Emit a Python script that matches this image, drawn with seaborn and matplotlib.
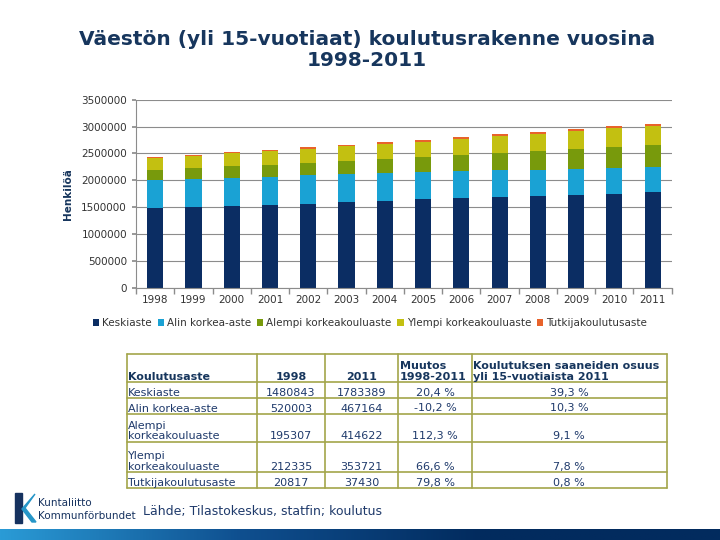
import numpy as np
import pandas as pd
import matplotlib
matplotlib.use("Agg")
import matplotlib.pyplot as plt
from matplotlib.patches import Patch, Polygon
import seaborn as sns

# Data (1998 and 2011 from the table)
years = [1998, 1999, 2000, 2001, 2002, 2003, 2004, 2005, 2006, 2007, 2008, 2009, 2010, 2011]
levels = ["Keskiaste", "Alin korkea-aste", "Alempi korkeakouluaste",
          "Ylempi korkeakouluaste", "Tutkijakoulutusaste"]
keskiaste = [1480843, 1500000, 1527000, 1548000, 1570000, 1594000, 1622000, 1645000,
             1668000, 1692000, 1705000, 1730000, 1755000, 1783389]
alin = [520003, 520000, 522000, 515000, 522000, 520000, 516000, 512000,
        508000, 502000, 492000, 484000, 477000, 467164]
alempi = [195307, 205000, 215000, 228000, 237000, 252000, 266000, 285000,
          303000, 322000, 350000, 370000, 395000, 414622]
ylempi = [212335, 225000, 238000, 250000, 260000, 270000, 280000, 280000,
          290000, 312000, 320000, 340000, 343000, 353721]
tutkija = [20817, 22000, 23000, 24500, 25500, 27000, 28000, 29500,
           31000, 32500, 34000, 35000, 36000, 37430]
colors = ["#0B2D63", "#1AA2D4", "#789A0C", "#C3C011", "#E8632B"]

# table below the chart
tbl_header = ["Koulutusaste", "1998", "2011", "Muutos\n1998-2011",
              "Koulutuksen saaneiden osuus\nyli 15-vuotiaista 2011"]
tbl_rows = [
    ["Keskiaste", "1480843", "1783389", "20,4 %", "39,3 %"],
    ["Alin korkea-aste", "520003", "467164", "-10,2 %", "10,3 %"],
    ["Alempi\nkorkeakouluaste", "195307", "414622", "112,3 %", "9,1 %"],
    ["Ylempi\nkorkeakouluaste", "212335", "353721", "66,6 %", "7,8 %"],
    ["Tutkijakoulutusaste", "20817", "37430", "79,8 %", "0,8 %"],
]

NAVY = "#17365D"
TEXT = "#1F3A6B"

sns.set_theme(style="white")
plt.rcParams["font.family"] = ["DejaVu Sans"]

df = pd.DataFrame({"vuosi": years, levels[0]: keskiaste, levels[1]: alin,
                   levels[2]: alempi, levels[3]: ylempi, levels[4]: tutkija})
cum = df[levels].cumsum(axis=1)
cum["vuosi"] = df["vuosi"].astype(str)

fig = plt.figure(figsize=(7.2, 5.4), dpi=100)
ax = fig.add_axes([0.189, 0.4667, 0.744, 0.3487])

# stacked bars: draw cumulative totals from top level down
for lev, col in reversed(list(zip(levels, colors))):
    sns.barplot(data=cum, x="vuosi", y=lev, color=col, width=0.42,
                saturation=1, ax=ax, linewidth=0)

ax.set_ylim(0, 3500000)
ax.set_xlim(-0.5, len(years) - 0.5)
ax.set_yticks(np.arange(0, 3500001, 500000))
ax.set_yticklabels([str(v) for v in range(0, 3500001, 500000)])
ax.yaxis.grid(True, color="#8C8C8C", linewidth=0.8)
ax.set_axisbelow(True)
for s in ["top", "right"]:
    ax.spines[s].set_visible(False)
for s in ["left", "bottom"]:
    ax.spines[s].set_color("#8C8C8C")
    ax.spines[s].set_linewidth(0.8)
ax.set_xticks(np.arange(-0.5, len(years), 1), minor=True)
ax.tick_params(axis="x", which="major", length=0, labelsize=7.5, colors="#333333", pad=5)
ax.tick_params(axis="x", which="minor", length=4, color="#8C8C8C", direction="out", bottom=True)
ax.tick_params(axis="y", length=3, color="#8C8C8C", labelsize=7.5, labelcolor="#333333", left=True)
ax.set_xlabel("")
ax.set_ylabel("Henkilöä", fontsize=7.5, fontweight="bold", color=NAVY, labelpad=6)

handles = [Patch(facecolor=c, edgecolor="none", label=l) for l, c in zip(levels, colors)]
fig.legend(handles=handles, loc="center", bbox_to_anchor=(0.514, 0.402), ncol=5,
           frameon=False, fontsize=7.5, handlelength=0.6, handleheight=0.6,
           handletextpad=0.3, columnspacing=0.55, labelcolor="#333333")

fig.text(0.51, 1 - 50 / 540, "Väestön (yli 15-vuotiaat) koulutusrakenne vuosina\n1998-2011",
         ha="center", va="center", fontsize=14.5, fontweight="bold", color=NAVY,
         linespacing=1.1)

# overlay axes in pixel coordinates for table, logo and footer
ov = fig.add_axes([0, 0, 1, 1], facecolor="none")
ov.set_xlim(0, 720)
ov.set_ylim(540, 0)
ov.axis("off")

col_x = [126.7, 257.3, 324.5, 398.3, 471.7, 666.7]
row_y = [354.3, 382.3, 398.3, 414, 441.7, 472.3, 488.3]
bcol = "#A3A54A"
for x in col_x:
    ov.plot([x, x], [row_y[0], row_y[-1]], color=bcol, lw=1.2)
for y in row_y:
    ov.plot([col_x[0], col_x[-1]], [y, y], color=bcol, lw=1.2)

fs = 8
for r, cells in enumerate([tbl_header] + tbl_rows):
    yb = row_y[r + 1] - 2.5
    for c, txt in enumerate(cells):
        bold = r == 0
        if c == 0 or (r == 0 and c >= 3):
            x, ha = col_x[c] + 1.5, "left"
        else:
            x, ha = (col_x[c] + col_x[c + 1]) / 2, "center"
        ov.text(x, yb, txt, ha=ha, va="baseline", fontsize=fs,
                fontweight="bold" if bold else "normal",
                color=NAVY if bold else TEXT, linespacing=1.05)

ov.text(143, 512, "Lähde; Tilastokeskus, statfin; koulutus", fontsize=9,
        color=TEXT, va="center", ha="left")

# logo
ov.add_patch(Polygon([[15, 493], [22, 493], [22, 523], [15, 523]], color="#16325F"))
ov.add_patch(Polygon([[22, 509], [35, 494], [25, 508], [36, 522], [32, 522]], color="#2696C8"))
ov.text(38, 503, "Kuntaliitto", fontsize=7.5, color="#16325F", va="center")
ov.text(38, 516, "Kommunförbundet", fontsize=7.5, color="#16325F", va="center")

# footer gradient band
grad = np.linspace(0, 1, 256).reshape(1, -1)
cmap = matplotlib.colors.LinearSegmentedColormap.from_list(
    "band", ["#2A9BD6", "#0F4F8F", "#022B5E", "#022B5E"])
ov.imshow(grad, extent=[0, 720, 540, 529], aspect="auto", cmap=cmap, zorder=0)
ov.set_xlim(0, 720)
ov.set_ylim(540, 0)

fig.savefig("out.png", dpi=100)
